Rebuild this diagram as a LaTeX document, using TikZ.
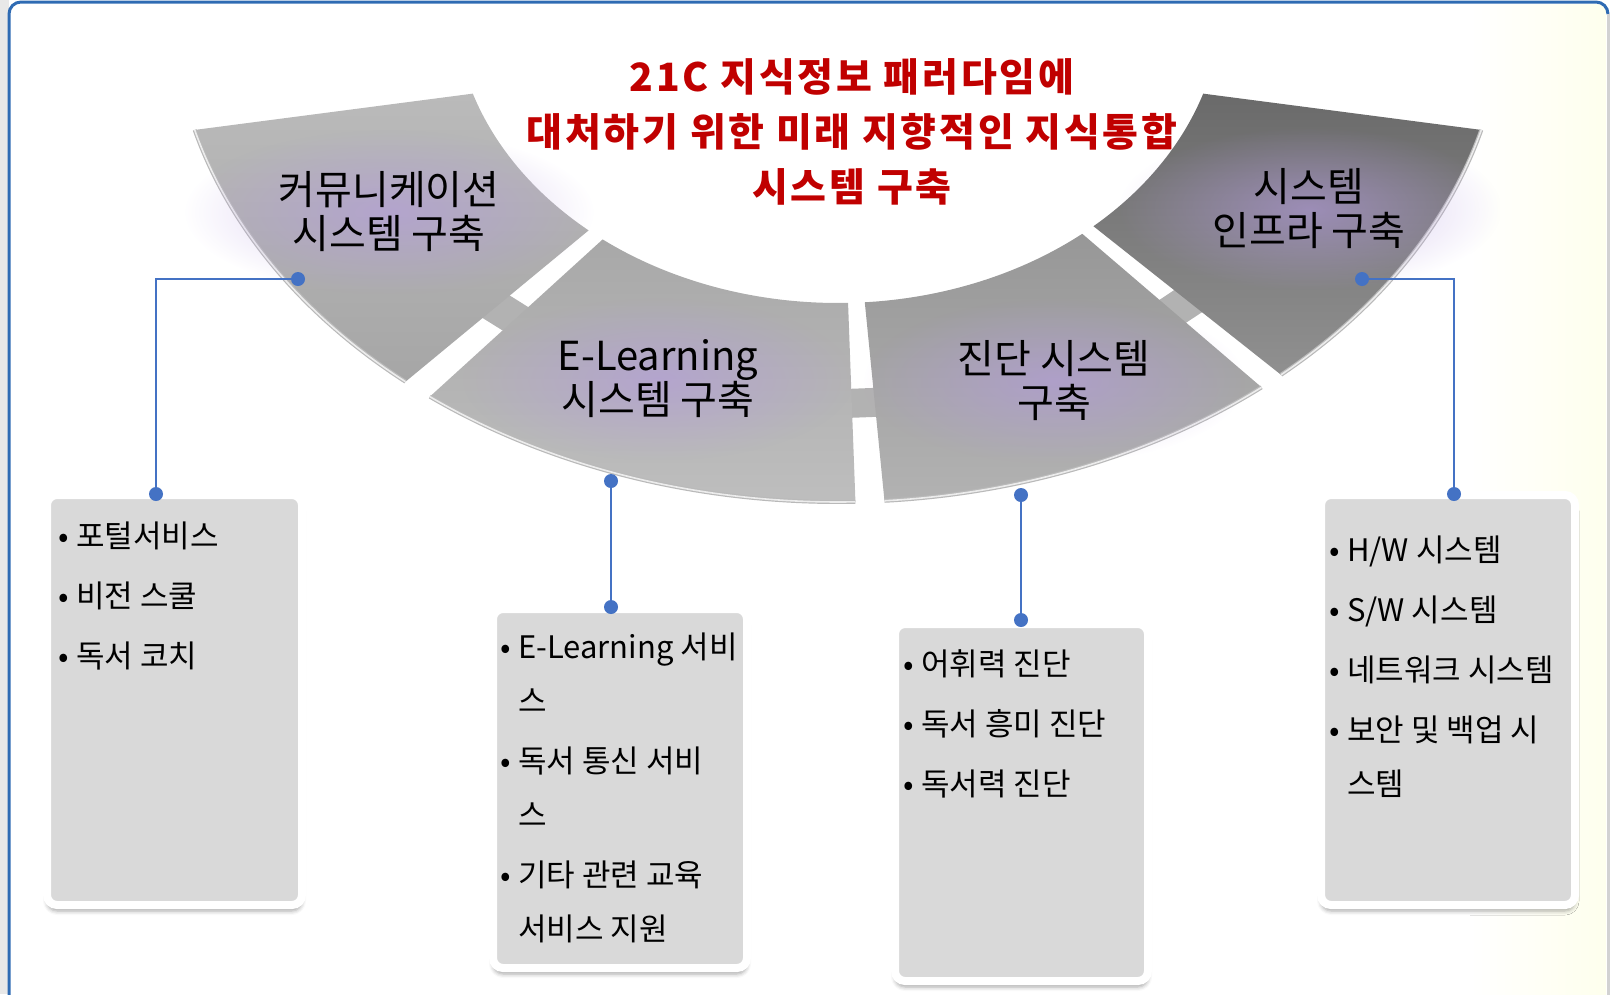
\documentclass[tikz,border=0pt]{standalone}
\usepackage{fontspec}
\setmainfont{Noto Sans CJK KR}
\newfontfamily\titlefont[LetterSpace=7]{Noto Sans CJK KR}
\usepackage{xcolor}
\usepackage{tikz}
\usetikzlibrary{positioning, calc, shadows.blur, fadings}
\definecolor{LinkBlue}{HTML}{4472C4}
\definecolor{FrameBlue}{HTML}{2F6BB3}
\definecolor{TitleRed}{HTML}{C00000}
\definecolor{GlowPurple}{HTML}{B49BE0}
\definecolor{SegOneTop}{HTML}{BABABA}
\definecolor{SegOneBot}{HTML}{A6A6A6}
\definecolor{SegTwoTop}{HTML}{A8A8A8}
\definecolor{SegTwoBot}{HTML}{BEBEBE}
\definecolor{SegThreeTop}{HTML}{979797}
\definecolor{SegThreeBot}{HTML}{B2B2B2}
\definecolor{SegFourTop}{HTML}{6A6A6A}
\definecolor{SegFourBot}{HTML}{909090}
\tikzfading[name=glowfade, inner color=transparent!0, outer color=transparent!100]
\tikzset{
    seglabel/.style={align=center, font=\fontsize{40}{44}\selectfont, inner xsep=95pt, inner ysep=42pt,
        preaction={fill=GlowPurple, fill opacity=0.6, path fading=glowfade}},
    titletext/.style={align=center, text=TitleRed, inner sep=0pt,
        font=\titlefont\bfseries\fontsize{39}{55}\selectfont},
    listbox/.style={rectangle, rounded corners=10pt, draw=white, line width=8pt, fill=gray!30,
        blur shadow={shadow xshift=0pt, shadow yshift=-6pt, shadow blur radius=4pt, shadow opacity=35}},
    listtext/.style={anchor=north west, align=left, inner sep=0pt, font=\fontsize{31}{54}\selectfont},
    jointdot/.style={circle, fill=LinkBlue, inner sep=0pt, minimum size=14pt},
    linkline/.style={draw=LinkBlue, line width=2.5pt},
    segedge/.style={draw=gray!55, line width=1.2pt, double=white!85!gray, double distance=1.6pt},
    bridge/.style={fill=gray!60},
}
\newcommand{\itm}{\makebox[18pt][l]{\textbullet}}
\newcommand{\itmind}{\hspace*{18pt}}

\begin{document}
\begin{tikzpicture}[x=1pt, y=-1pt]
    \useasboundingbox (0,0) rectangle (1613,994);

    % slide frame
    \fill[gray!18] (0,0) rectangle (9,994);
    \fill[left color=white, right color=green!4!yellow!7] (1470,4) rectangle (1606,994);
    \draw[FrameBlue, line width=3pt] (9,1010) -- (9,14) arc[start angle=180, end angle=270, radius=12]
        -- (1596,2) arc[start angle=270, end angle=360, radius=12];
    \draw[gray!35, line width=3pt] (1608,14) -- (1608,1010);

    % bridges between the ring parts
    \foreach \t in {129.2, 87.2, 49.3}
        \fill[bridge] ({838+505*cos(\t-1.8)},{389*sin(\t-1.8)}) -- ({838+548*cos(\t-1.8)},{418*sin(\t-1.8)})
            -- ({838+548*cos(\t+1.8)},{418*sin(\t+1.8)}) -- ({838+505*cos(\t+1.8)},{389*sin(\t+1.8)}) -- cycle;

    % ring parts
    \path[top color=SegOneTop, bottom color=SegOneBot] ({838+666*cos(165)},{502*sin(165)})
        arc[start angle=165, end angle=130.5, x radius=666, y radius=502]
        -- ({838+384*cos(130.5)},{303*sin(130.5)})
        arc[start angle=130.5, end angle=162, x radius=384, y radius=303] -- cycle;
    \draw[segedge] ({838+666*cos(165)},{502*sin(165)})
        arc[start angle=165, end angle=130.5, x radius=666, y radius=502];

    \path[top color=SegTwoTop, bottom color=SegTwoBot] ({838+666*cos(127.8)},{502*sin(127.8)})
        arc[start angle=127.8, end angle=88.5, x radius=666, y radius=502]
        -- ({838+384*cos(88.5)},{303*sin(88.5)})
        arc[start angle=88.5, end angle=127.8, x radius=384, y radius=303] -- cycle;
    \draw[segedge] ({838+666*cos(127.8)},{502*sin(127.8)})
        arc[start angle=127.8, end angle=88.5, x radius=666, y radius=502];

    \path[top color=SegThreeTop, bottom color=SegThreeBot] ({838+666*cos(86)},{502*sin(86)})
        arc[start angle=86, end angle=50.5, x radius=666, y radius=502]
        -- ({838+384*cos(50.5)},{303*sin(50.5)})
        arc[start angle=50.5, end angle=86, x radius=384, y radius=303] -- cycle;
    \draw[segedge] ({838+666*cos(86)},{502*sin(86)})
        arc[start angle=86, end angle=50.5, x radius=666, y radius=502];

    \path[top color=SegFourTop, bottom color=SegFourBot] ({838+666*cos(48.3)},{502*sin(48.3)})
        arc[start angle=48.3, end angle=15, x radius=666, y radius=502]
        -- ({838+384*cos(18)},{303*sin(18)})
        arc[start angle=18, end angle=48.3, x radius=384, y radius=303] -- cycle;
    \draw[segedge] ({838+666*cos(48.3)},{502*sin(48.3)})
        arc[start angle=48.3, end angle=15, x radius=666, y radius=502];

    % title
    \node[titletext] (title) at (852,132)
        {21C 지식정보 패러다임에\\대처하기 위한 미래 지향적인 지식통합\\시스템 구축};

    % ring labels
    \node[seglabel] (comm) at (389,212) {커뮤니케이션\\시스템 구축};
    \node[seglabel] (elearn) at (658,379) {E-Learning\\시스템 구축};
    \node[seglabel] (diag) at (1054,381) {진단 시스템\\구축};
    \node[seglabel] (infra) at (1309,209) {시스템\\인프라 구축};

    % detail boxes
    \node[listbox, minimum width=255pt, minimum height=410pt] (commbox) at (174.5,700) {};
    \node[listbox, minimum width=254pt, minimum height=359pt] (elearnbox) at (620,788.5) {};
    \node[listbox, minimum width=253pt, minimum height=357pt] (diagbox) at (1021.5,802.5) {};
    \node[listbox, minimum width=254pt, minimum height=410pt] (infrabox) at (1448,700) {};

    \node[listtext] (commlist) at (58,522)
        {\itm 포털서비스\\[6pt]\itm 비전 스쿨\\[6pt]\itm 독서 코치};
    \node[listtext] (elearnlist) at (500,633)
        {\itm E-Learning 서비\\\itmind 스\\[6pt]\itm 독서 통신 서비\\\itmind 스\\[6pt]\itm 기타 관련 교육\\\itmind 서비스 지원};
    \node[listtext] (diaglist) at (903,649)
        {\itm 어휘력 진단\\[6pt]\itm 독서 흥미 진단\\[6pt]\itm 독서력 진단};
    \node[listtext] (infralist) at (1329,536)
        {\itm H/W 시스템\\[6pt]\itm S/W 시스템\\[6pt]\itm 네트워크 시스템\\[6pt]\itm 보안 및 백업 시\\\itmind 스템};

    % connectors
    \node[jointdot] (commdot) at (298,279) {};
    \node[jointdot] (commtop) at (156,494) {};
    \node[jointdot] (elearndot) at (611,481) {};
    \node[jointdot] (elearntop) at (611,607) {};
    \node[jointdot] (diagdot) at (1021,495) {};
    \node[jointdot] (diagtop) at (1021,620) {};
    \node[jointdot] (infradot) at (1362,279) {};
    \node[jointdot] (infratop) at (1454,494) {};

    \draw[linkline] (commdot) -| (commtop);
    \draw[linkline] (elearndot) -- (elearntop);
    \draw[linkline] (diagdot) -- (diagtop);
    \draw[linkline] (infradot) -| (infratop);
\end{tikzpicture}
\end{document}
